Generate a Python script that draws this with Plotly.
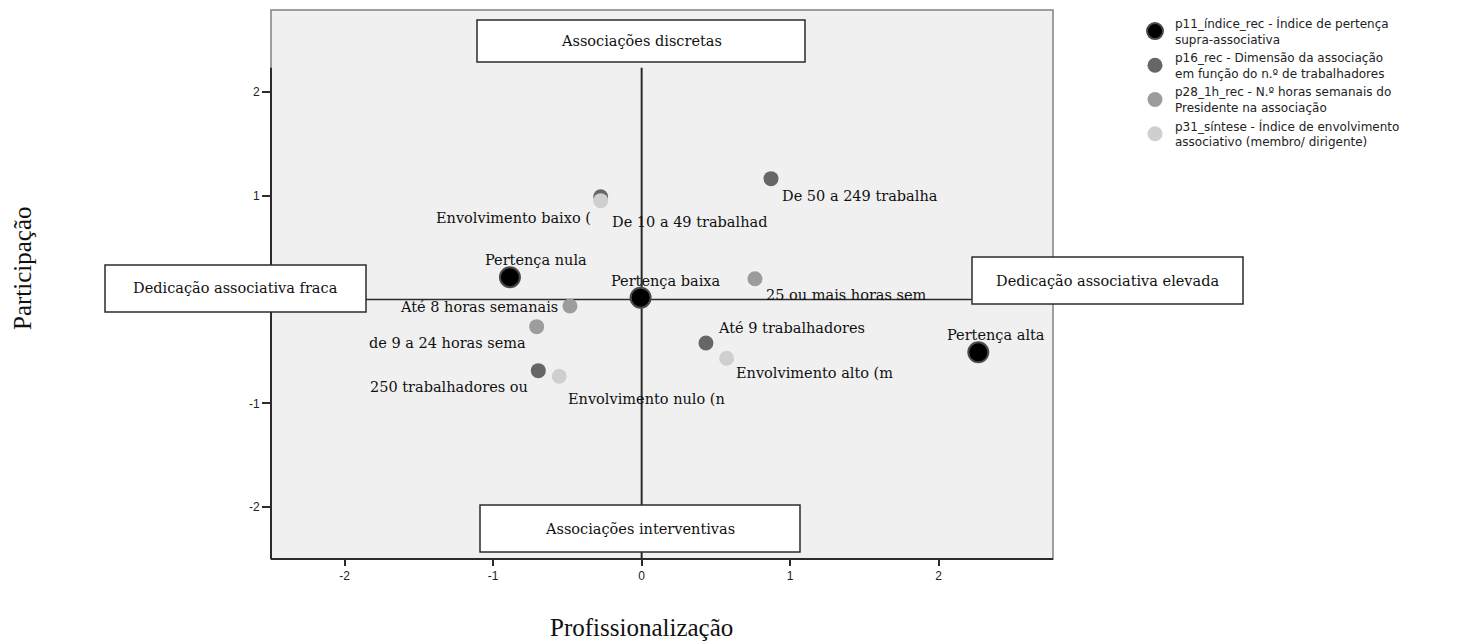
import plotly.graph_objects as go

# ---------------- data ----------------
p11_labels = ["Pertença nula", "Pertença baixa", "Pertença alta"]
p11_x = [-0.887, -0.007, 2.267]
p11_y = [0.215, 0.018, -0.508]

p16_labels = ["De 10 a 49 trabalhad", "De 50 a 249 trabalha", "Até 9 trabalhadores", "250 trabalhadores ou"]
p16_x = [-0.276, 0.871, 0.433, -0.696]
p16_y = [0.991, 1.165, -0.418, -0.685]

p28_labels = ["Até 8 horas semanais", "de 9 a 24 horas sema", "25 ou mais horas sem"]
p28_x = [-0.483, -0.707, 0.763]
p28_y = [-0.062, -0.261, 0.201]

p31_labels = ["Envolvimento baixo (", "Envolvimento nulo (n", "Envolvimento alto (m"]
p31_x = [-0.276, -0.555, 0.572]
p31_y = [0.953, -0.739, -0.566]

series_names = [
    "p11_índice_rec - Índice de pertença<br>supra-associativa",
    "p16_rec - Dimensão da associação<br>em função do n.º de trabalhadores",
    "p28_1h_rec - N.º horas semanais do<br>Presidente na associação",
    "p31_síntese - Índice de envolvimento<br>associativo (membro/ dirigente)",
]

x_ticks = [-2, -1, 0, 1, 2]
y_ticks = [-2, -1, 1, 2]   # the 0 tick is hidden behind the left box in the original

# ---------------- styles ----------------
label_font = dict(family="DejaVu Serif", size=14.5, color="#111")
# label placement: (xanchor, xshift, yshift)
label_pos = {
    "Pertença nula": ("center", 26, 17),
    "Pertença baixa": ("center", 25, 17),
    "Pertença alta": ("center", 18, 17),
    "Envolvimento baixo (": ("right", -9, -17),
    "De 10 a 49 trabalhad": ("left", 10, -25),
    "De 50 a 249 trabalha": ("left", 10, -17),
    "Até 9 trabalhadores": ("left", 11, 15),
    "Envolvimento alto (m": ("left", 8, -15),
    "Envolvimento nulo (n": ("left", 8, -23),
    "250 trabalhadores ou": ("right", -9, -16),
    "de 9 a 24 horas sema": ("right", -10, -16),
    "Até 8 horas semanais": ("right", -11, -1),
    "25 ou mais horas sem": ("left", 10, -16),
}

series = [
    (p11_labels, p11_x, p11_y, dict(color="#000000", size=20, line=dict(color="#4a4a4a", width=2))),
    (p16_labels, p16_x, p16_y, dict(color="#666666", size=15, line=dict(width=0))),
    (p28_labels, p28_x, p28_y, dict(color="#9c9c9c", size=15, line=dict(width=0))),
    (p31_labels, p31_x, p31_y, dict(color="#cfcfcf", size=15, line=dict(width=0))),
]

# page geometry: the browser places the figure 8 px from the top-left corner
OFF = 8
W, H = 1469 - OFF, 643 - OFF
# plot area in screen pixels
SL, SR, ST, SB = 271, 1053, 10, 559
L, R, T, B = SL - OFF, SR - OFF, ST - OFF, SB - OFF
pw, ph = R - L, B - T


def px_x(p):
    """screen pixel x -> paper x"""
    return (p - SL) / pw


def px_y(p):
    """screen pixel y -> paper y"""
    return (SB - p) / ph


fig = go.Figure()
annotations = []
for (labels, xs, ys, mk), name in zip(series, series_names):
    fig.add_trace(go.Scatter(x=xs, y=ys, mode="markers", name=name, marker=mk,
                             hoverinfo="text", text=labels))
    for lab, xv, yv in zip(labels, xs, ys):
        anc, xs_, ys_ = label_pos[lab]
        annotations.append(dict(x=xv, y=yv, xref="x", yref="y", text=lab, showarrow=False,
                                xanchor=anc, yanchor="middle", xshift=xs_, yshift=ys_,
                                font=label_font, borderpad=0))

shapes = []
# reference lines
shapes.append(dict(type="line", xref="x", yref="y", x0=0, x1=0, y0=-2.5, y1=2.234,
                   line=dict(color="#2b2b2b", width=2), layer="below"))
shapes.append(dict(type="line", xref="x", yref="y", x0=-2.5, x1=2.22, y0=0, y1=0,
                   line=dict(color="#2b2b2b", width=1.6), layer="below"))
# frame
shapes.append(dict(type="rect", xref="paper", yref="paper", x0=0, x1=1, y0=0, y1=1,
                   line=dict(color="#808080", width=1.5), layer="above"))
# axis lines (dark)
shapes.append(dict(type="line", xref="paper", yref="y", x0=0, x1=0, y0=-2.5, y1=2.234,
                   line=dict(color="#2b2b2b", width=2), layer="above"))
shapes.append(dict(type="line", xref="paper", yref="paper", x0=0, x1=1, y0=0, y1=0,
                   line=dict(color="#2b2b2b", width=2), layer="above"))

# quadrant boxes (screen pixel rectangles)
boxes = [
    ("Associações discretas", 477, 805, 20, 62),
    ("Associações interventivas", 480, 800, 505, 552),
    ("Dedicação associativa fraca", 105, 366, 265, 312),
    ("Dedicação associativa elevada", 972, 1243, 257, 304),
]
for txt, x0, x1, y0, y1 in boxes:
    shapes.append(dict(type="rect", xref="paper", yref="paper",
                       x0=px_x(x0), x1=px_x(x1), y0=px_y(y1), y1=px_y(y0),
                       fillcolor="white", line=dict(color="#2b2b2b", width=1.5), layer="above"))
    annotations.append(dict(x=px_x((x0 + x1) / 2), y=px_y((y0 + y1) / 2), xref="paper", yref="paper",
                            text=txt, showarrow=False, xanchor="center", yanchor="middle",
                            font=dict(family="DejaVu Serif", size=14.5, color="#111")))

# axis titles
annotations.append(dict(x=px_x(641), y=px_y(627), xref="paper", yref="paper", text="Profissionalização",
                        showarrow=False, xanchor="center", yanchor="middle",
                        font=dict(family="Liberation Serif", size=25, color="#111")))
annotations.append(dict(x=px_x(22), y=px_y(268), xref="paper", yref="paper", text="Participação",
                        showarrow=False, xanchor="center", yanchor="middle", textangle=-90,
                        font=dict(family="Liberation Serif", size=25, color="#111")))

fig.update_layout(
    width=W, height=H,
    margin=dict(l=L, r=W - R, t=T, b=H - B, pad=0, autoexpand=False),
    paper_bgcolor="white", plot_bgcolor="#f0f0f0",
    shapes=shapes, annotations=annotations,
    showlegend=True,
    legend=dict(x=px_x(1135), y=px_y(9), xanchor="left", yanchor="top",
                font=dict(family="DejaVu Sans", size=12, color="#222"),
                bgcolor="rgba(0,0,0,0)", tracegroupgap=0, itemsizing="trace"),
    xaxis=dict(range=[-2.496, 2.770], tickvals=x_ticks, ticktext=[str(v) for v in x_ticks],
               showgrid=False, zeroline=False, showline=False,
               ticks="outside", ticklen=6, tickwidth=2, tickcolor="#2b2b2b",
               tickfont=dict(family="Liberation Sans", size=12, color="#222")),
    yaxis=dict(range=[-2.5, 2.790], tickvals=y_ticks, ticktext=[str(v) for v in y_ticks],
               showgrid=False, zeroline=False, showline=False,
               ticks="outside", ticklen=8, tickwidth=2, tickcolor="#2b2b2b",
               tickfont=dict(family="Liberation Sans", size=12, color="#222")),
)

fig.write_html("out.html")
